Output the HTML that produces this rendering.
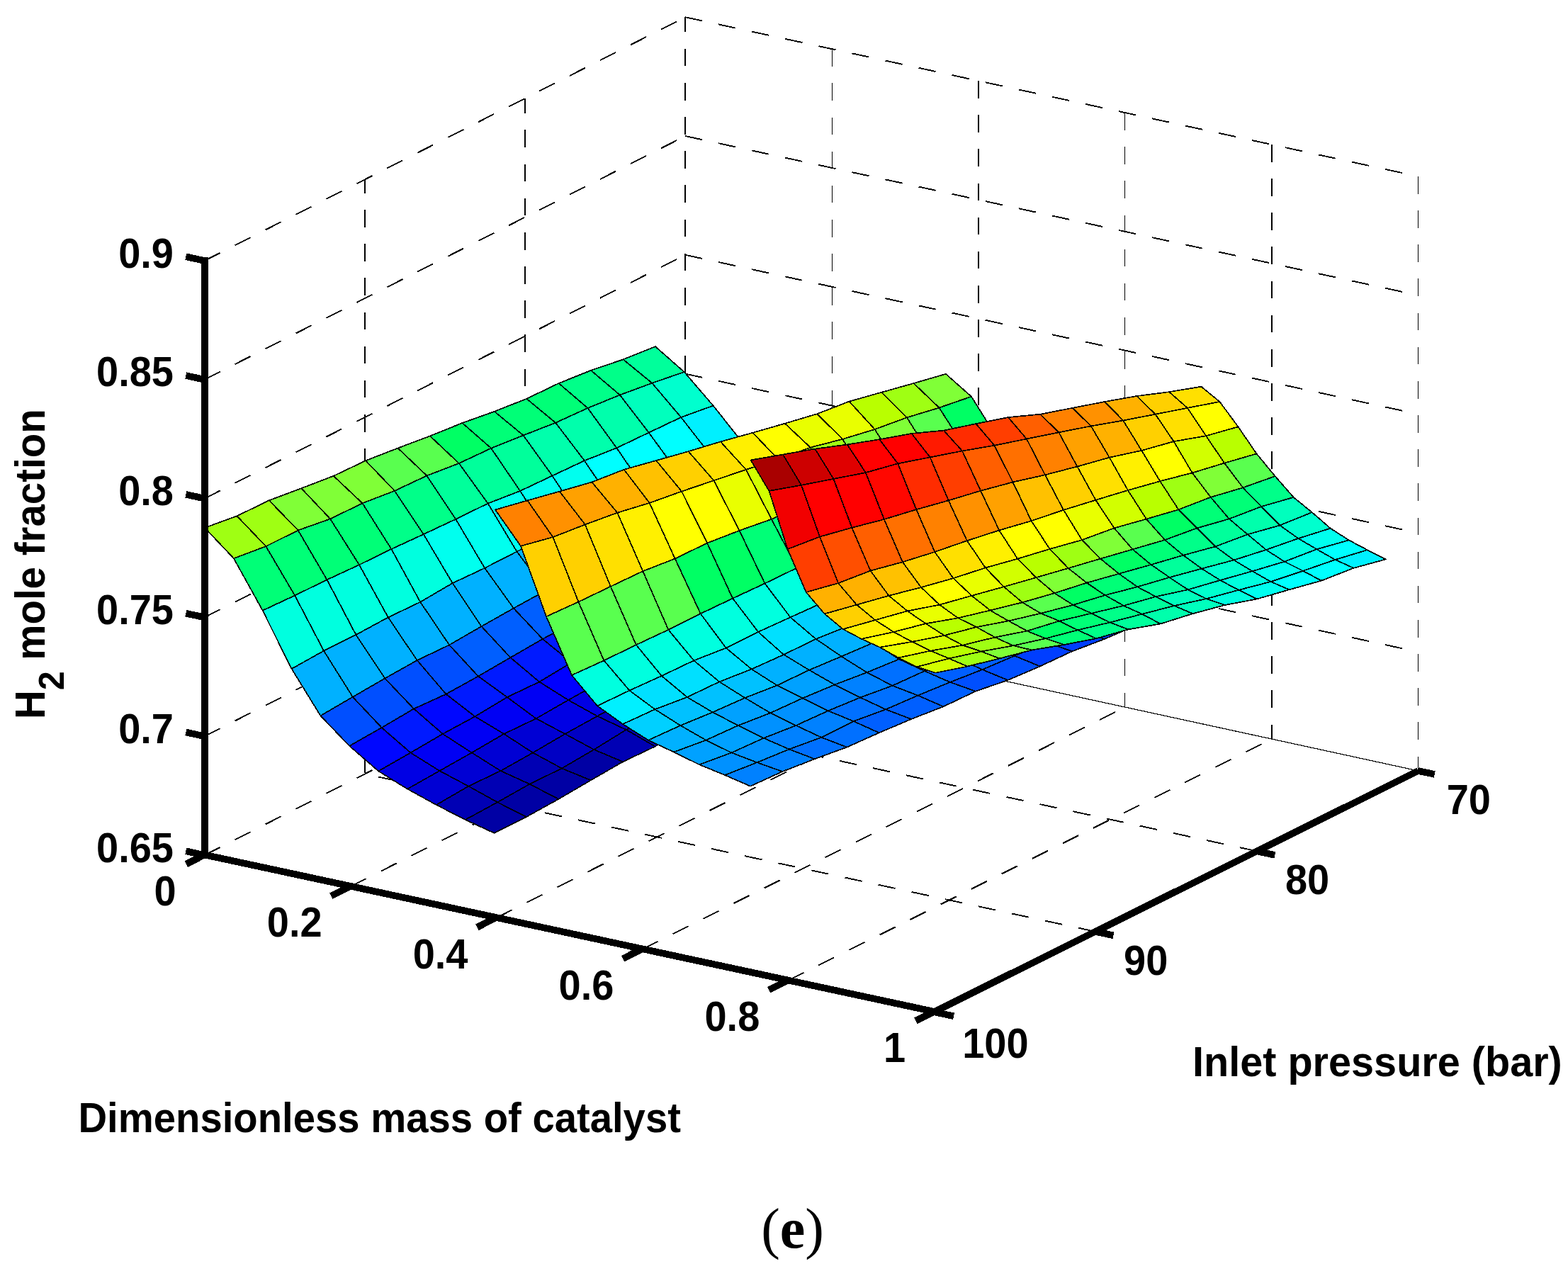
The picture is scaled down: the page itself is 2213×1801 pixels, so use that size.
<!DOCTYPE html>
<html><head><meta charset="utf-8"><title>Figure (e)</title>
<style>
html,body{margin:0;padding:0;background:#fff;}
body{width:2213px;height:1801px;overflow:hidden;}
svg{display:block;}
text{font-family:"Liberation Sans",Arial,Helvetica,sans-serif;font-weight:bold;fill:#000;}
</style></head><body>
<svg width="2213" height="1801" viewBox="0 0 2213 1801" shape-rendering="crispEdges">
<rect width="2213" height="1801" fill="#fff"/>
<g id="grid">
<line x1="515.0" y1="253.4" x2="515.0" y2="1092.4" stroke="#000" stroke-width="2" stroke-dasharray="24.6,23.55" stroke-dashoffset="5.5"/>
<line x1="741.0" y1="138.8" x2="741.0" y2="977.8" stroke="#000" stroke-width="2" stroke-dasharray="24.6,23.55" stroke-dashoffset="3.5"/>
<line x1="967.0" y1="24.2" x2="967.0" y2="863.2" stroke="#000" stroke-width="2" stroke-dasharray="24.6,23.55" stroke-dashoffset="3.5"/>
<line x1="288.7" y1="1207.0" x2="967.2" y2="863.2" stroke="#000" stroke-width="1.9" stroke-dasharray="24.6,23.55"/>
<line x1="288.7" y1="1039.2" x2="967.2" y2="695.4" stroke="#000" stroke-width="1.9" stroke-dasharray="24.6,23.55"/>
<line x1="288.7" y1="871.4" x2="967.2" y2="527.6" stroke="#000" stroke-width="1.9" stroke-dasharray="24.6,23.55"/>
<line x1="288.7" y1="703.6" x2="967.2" y2="359.8" stroke="#000" stroke-width="1.9" stroke-dasharray="24.6,23.55"/>
<line x1="288.7" y1="535.8" x2="967.2" y2="192.0" stroke="#000" stroke-width="1.9" stroke-dasharray="24.6,23.55"/>
<line x1="288.7" y1="368.0" x2="967.2" y2="24.2" stroke="#000" stroke-width="1.9" stroke-dasharray="24.6,23.55"/>
<line x1="1174.5" y1="69.2" x2="1174.5" y2="908.2" stroke="#000" stroke-width="1" stroke-dasharray="24.6,23.55"/>
<line x1="1381.0" y1="114.1" x2="1381.0" y2="953.1" stroke="#000" stroke-width="2" stroke-dasharray="24.6,23.55"/>
<line x1="1587.5" y1="159.1" x2="1587.5" y2="998.1" stroke="#000" stroke-width="1" stroke-dasharray="24.6,23.55"/>
<line x1="1795.0" y1="204.0" x2="1795.0" y2="1043.0" stroke="#000" stroke-width="2" stroke-dasharray="24.6,23.55"/>
<line x1="2001.5" y1="249.0" x2="2001.5" y2="1088.0" stroke="#000" stroke-width="1" stroke-dasharray="24.6,23.55"/>
<line x1="967.2" y1="695.4" x2="2001.7" y2="920.2" stroke="#000" stroke-width="1.9" stroke-dasharray="24.6,23.55"/>
<line x1="967.2" y1="527.6" x2="2001.7" y2="752.4" stroke="#000" stroke-width="1.9" stroke-dasharray="24.6,23.55"/>
<line x1="967.2" y1="359.8" x2="2001.7" y2="584.6" stroke="#000" stroke-width="1.9" stroke-dasharray="24.6,23.55"/>
<line x1="967.2" y1="192.0" x2="2001.7" y2="416.8" stroke="#000" stroke-width="1.9" stroke-dasharray="24.6,23.55"/>
<line x1="967.2" y1="24.2" x2="2001.7" y2="249.0" stroke="#000" stroke-width="1.9" stroke-dasharray="24.6,23.55"/>
<line x1="967.2" y1="863.2" x2="2001.7" y2="1088.0" stroke="#000" stroke-width="1.2"/>
<line x1="494.6" y1="1251.3" x2="1174.1" y2="908.2" stroke="#000" stroke-width="1.9" stroke-dasharray="24.6,23.55"/>
<line x1="700.5" y1="1295.5" x2="1381.0" y2="953.1" stroke="#000" stroke-width="1.9" stroke-dasharray="24.6,23.55"/>
<line x1="906.4" y1="1339.8" x2="1587.9" y2="998.1" stroke="#000" stroke-width="1.9" stroke-dasharray="24.6,23.55"/>
<line x1="1112.3" y1="1384.0" x2="1794.8" y2="1043.0" stroke="#000" stroke-width="1.9" stroke-dasharray="24.6,23.55"/>
<line x1="1546.0" y1="1314.9" x2="514.9" y2="1092.4" stroke="#000" stroke-width="1.9" stroke-dasharray="24.6,23.55"/>
<line x1="1773.9" y1="1201.4" x2="741.0" y2="977.8" stroke="#000" stroke-width="1.9" stroke-dasharray="24.6,23.55"/>
</g>
<g id="surfaces" stroke="#000" stroke-width="1.7" stroke-linejoin="round">
<g id="s1">
<polygon points="879.5,507.3 924.9,489.1 965.7,525.0 920.3,540.7" fill="#00ff9b"/>
<polygon points="920.3,540.7 965.7,525.0 1006.6,572.6 961.2,589.0" fill="#00ffce"/>
<polygon points="961.2,589.0 1006.6,572.6 1047.4,624.0 1002.0,641.3" fill="#00f0ff"/>
<polygon points="1002.0,641.3 1047.4,624.0 1088.3,658.2 1042.9,683.2" fill="#00b1ff"/>
<polygon points="1042.9,683.2 1088.3,658.2 1129.1,704.1 1083.7,729.0" fill="#0081ff"/>
<polygon points="1083.7,729.0 1129.1,704.1 1170.0,731.7 1124.6,757.1" fill="#003eff"/>
<polygon points="1124.6,757.1 1170.0,731.7 1210.8,762.7 1165.4,787.7" fill="#001aff"/>
<polygon points="1165.4,787.7 1210.8,762.7 1251.7,787.0 1206.3,811.9" fill="#0000ff"/>
<polygon points="1206.3,811.9 1251.7,787.0 1292.5,805.6 1247.1,830.7" fill="#0000e4"/>
<polygon points="1247.1,830.7 1292.5,805.6 1333.4,828.3 1288.0,853.2" fill="#0000d4"/>
<polygon points="834.0,522.8 879.5,507.3 920.3,540.7 874.9,557.5" fill="#00ff89"/>
<polygon points="874.9,557.5 920.3,540.7 961.2,589.0 915.7,610.6" fill="#00ffbd"/>
<polygon points="915.7,610.6 961.2,589.0 1002.0,641.3 956.6,666.7" fill="#00ffff"/>
<polygon points="956.6,666.7 1002.0,641.3 1042.9,683.2 997.4,708.3" fill="#00b1ff"/>
<polygon points="997.4,708.3 1042.9,683.2 1083.7,729.0 1038.3,753.8" fill="#0081ff"/>
<polygon points="1038.3,753.8 1083.7,729.0 1124.6,757.1 1079.1,782.5" fill="#003eff"/>
<polygon points="1079.1,782.5 1124.6,757.1 1165.4,787.7 1120.0,812.8" fill="#001aff"/>
<polygon points="1120.0,812.8 1165.4,787.7 1206.3,811.9 1160.8,836.8" fill="#0000ff"/>
<polygon points="1160.8,836.8 1206.3,811.9 1247.1,830.7 1201.7,855.9" fill="#0000e4"/>
<polygon points="1201.7,855.9 1247.1,830.7 1288.0,853.2 1242.5,878.1" fill="#0000d4"/>
<polygon points="788.6,541.0 834.0,522.8 874.9,557.5 829.5,576.0" fill="#00ff89"/>
<polygon points="829.5,576.0 874.9,557.5 915.7,610.6 870.3,632.3" fill="#00ffac"/>
<polygon points="870.3,632.3 915.7,610.6 956.6,666.7 911.2,692.0" fill="#00ffff"/>
<polygon points="911.2,692.0 956.6,666.7 997.4,708.3 952.0,733.3" fill="#00b1ff"/>
<polygon points="952.0,733.3 997.4,708.3 1038.3,753.8 992.9,778.7" fill="#0081ff"/>
<polygon points="992.9,778.7 1038.3,753.8 1079.1,782.5 1033.7,808.0" fill="#003eff"/>
<polygon points="1033.7,808.0 1079.1,782.5 1120.0,812.8 1074.6,837.8" fill="#001aff"/>
<polygon points="1074.6,837.8 1120.0,812.8 1160.8,836.8 1115.4,861.8" fill="#0000f4"/>
<polygon points="1115.4,861.8 1160.8,836.8 1201.7,855.9 1156.3,881.0" fill="#0000e4"/>
<polygon points="1156.3,881.0 1201.7,855.9 1242.5,878.1 1197.1,902.9" fill="#0000d4"/>
<polygon points="743.2,562.8 788.6,541.0 829.5,576.0 784.1,596.7" fill="#00ff77"/>
<polygon points="784.1,596.7 829.5,576.0 870.3,632.3 824.9,650.2" fill="#00ffac"/>
<polygon points="824.9,650.2 870.3,632.3 911.2,692.0 865.8,711.1" fill="#00ffff"/>
<polygon points="865.8,711.1 911.2,692.0 952.0,733.3 906.6,758.4" fill="#00b1ff"/>
<polygon points="906.6,758.4 952.0,733.3 992.9,778.7 947.5,803.6" fill="#0070ff"/>
<polygon points="947.5,803.6 992.9,778.7 1033.7,808.0 988.3,833.4" fill="#002cff"/>
<polygon points="988.3,833.4 1033.7,808.0 1074.6,837.8 1029.2,862.8" fill="#0007ff"/>
<polygon points="1029.2,862.8 1074.6,837.8 1115.4,861.8 1070.0,886.7" fill="#0000f4"/>
<polygon points="1070.0,886.7 1115.4,861.8 1156.3,881.0 1110.9,906.2" fill="#0000d4"/>
<polygon points="1110.9,906.2 1156.3,881.0 1197.1,902.9 1151.7,927.8" fill="#0000c4"/>
<polygon points="697.8,580.8 743.2,562.8 784.1,596.7 738.6,614.5" fill="#00ff77"/>
<polygon points="738.6,614.5 784.1,596.7 824.9,650.2 779.5,671.5" fill="#00ffac"/>
<polygon points="779.5,671.5 824.9,650.2 865.8,711.1 820.3,734.3" fill="#00ffef"/>
<polygon points="820.3,734.3 865.8,711.1 906.6,758.4 861.2,783.4" fill="#00b1ff"/>
<polygon points="861.2,783.4 906.6,758.4 947.5,803.6 902.0,828.5" fill="#0070ff"/>
<polygon points="902.0,828.5 947.5,803.6 988.3,833.4 942.9,858.8" fill="#002cff"/>
<polygon points="942.9,858.8 988.3,833.4 1029.2,862.8 983.7,887.8" fill="#0007ff"/>
<polygon points="983.7,887.8 1029.2,862.8 1070.0,886.7 1024.6,911.7" fill="#0000f4"/>
<polygon points="1024.6,911.7 1070.0,886.7 1110.9,906.2 1065.4,931.3" fill="#0000d4"/>
<polygon points="1065.4,931.3 1110.9,906.2 1151.7,927.8 1106.3,952.7" fill="#0000c4"/>
<polygon points="652.4,597.0 697.8,580.8 738.6,614.5 693.2,632.7" fill="#00ff77"/>
<polygon points="693.2,632.7 738.6,614.5 779.5,671.5 734.1,693.0" fill="#00ff9b"/>
<polygon points="734.1,693.0 779.5,671.5 820.3,734.3 774.9,756.2" fill="#00ffef"/>
<polygon points="774.9,756.2 820.3,734.3 861.2,783.4 815.8,808.5" fill="#00b1ff"/>
<polygon points="815.8,808.5 861.2,783.4 902.0,828.5 856.6,853.4" fill="#0070ff"/>
<polygon points="856.6,853.4 902.0,828.5 942.9,858.8 897.5,884.2" fill="#002cff"/>
<polygon points="897.5,884.2 942.9,858.8 983.7,887.8 938.3,912.8" fill="#0007ff"/>
<polygon points="938.3,912.8 983.7,887.8 1024.6,911.7 979.2,936.6" fill="#0000f4"/>
<polygon points="979.2,936.6 1024.6,911.7 1065.4,931.3 1020.0,956.4" fill="#0000d4"/>
<polygon points="1020.0,956.4 1065.4,931.3 1106.3,952.7 1060.9,977.6" fill="#0000c4"/>
<polygon points="606.9,615.4 652.4,597.0 693.2,632.7 647.8,654.0" fill="#00ff64"/>
<polygon points="647.8,654.0 693.2,632.7 734.1,693.0 688.6,710.6" fill="#00ff9b"/>
<polygon points="688.6,710.6 734.1,693.0 774.9,756.2 729.5,778.5" fill="#00ffef"/>
<polygon points="729.5,778.5 774.9,756.2 815.8,808.5 770.3,833.5" fill="#00b1ff"/>
<polygon points="770.3,833.5 815.8,808.5 856.6,853.4 811.2,878.3" fill="#0070ff"/>
<polygon points="811.2,878.3 856.6,853.4 897.5,884.2 852.0,909.7" fill="#002cff"/>
<polygon points="852.0,909.7 897.5,884.2 938.3,912.8 892.9,937.8" fill="#0000ff"/>
<polygon points="892.9,937.8 938.3,912.8 979.2,936.6 933.7,961.6" fill="#0000e4"/>
<polygon points="933.7,961.6 979.2,936.6 1020.0,956.4 974.6,981.6" fill="#0000d4"/>
<polygon points="974.6,981.6 1020.0,956.4 1060.9,977.6 1015.4,1002.5" fill="#0000c4"/>
<polygon points="561.5,632.5 606.9,615.4 647.8,654.0 602.4,671.4" fill="#59ff4f"/>
<polygon points="602.4,671.4 647.8,654.0 688.6,710.6 643.2,732.8" fill="#00ff9b"/>
<polygon points="643.2,732.8 688.6,710.6 729.5,778.5 684.1,801.8" fill="#00ffef"/>
<polygon points="684.1,801.8 729.5,778.5 770.3,833.5 724.9,858.5" fill="#00b1ff"/>
<polygon points="724.9,858.5 770.3,833.5 811.2,878.3 765.8,901.9" fill="#005fff"/>
<polygon points="765.8,901.9 811.2,878.3 852.0,909.7 806.6,935.1" fill="#001aff"/>
<polygon points="806.6,935.1 852.0,909.7 892.9,937.8 847.5,962.8" fill="#0000ff"/>
<polygon points="847.5,962.8 892.9,937.8 933.7,961.6 888.3,986.5" fill="#0000e4"/>
<polygon points="888.3,986.5 933.7,961.6 974.6,981.6 929.2,1006.7" fill="#0000c4"/>
<polygon points="929.2,1006.7 974.6,981.6 1015.4,1002.5 970.0,1027.4" fill="#0000b4"/>
<polygon points="516.1,650.2 561.5,632.5 602.4,671.4 557.0,692.8" fill="#59ff4f"/>
<polygon points="557.0,692.8 602.4,671.4 643.2,732.8 597.8,754.1" fill="#00ff89"/>
<polygon points="597.8,754.1 643.2,732.8 684.1,801.8 638.7,823.1" fill="#00ffef"/>
<polygon points="638.7,823.1 684.1,801.8 724.9,858.5 679.5,884.1" fill="#00b1ff"/>
<polygon points="679.5,884.1 724.9,858.5 765.8,901.9 720.4,928.1" fill="#005fff"/>
<polygon points="720.4,928.1 765.8,901.9 806.6,935.1 761.2,962.4" fill="#001aff"/>
<polygon points="761.2,962.4 806.6,935.1 847.5,962.8 802.1,988.1" fill="#0000ff"/>
<polygon points="802.1,988.1 847.5,962.8 888.3,986.5 842.9,1010.8" fill="#0000e4"/>
<polygon points="842.9,1010.8 888.3,986.5 929.2,1006.7 883.8,1030.0" fill="#0000c4"/>
<polygon points="883.8,1030.0 929.2,1006.7 970.0,1027.4 924.6,1053.6" fill="#0000b4"/>
<polygon points="470.7,671.8 516.1,650.2 557.0,692.8 511.5,710.3" fill="#80ff37"/>
<polygon points="511.5,710.3 557.0,692.8 597.8,754.1 552.4,775.0" fill="#00ff89"/>
<polygon points="552.4,775.0 597.8,754.1 638.7,823.1 593.2,849.7" fill="#00ffdf"/>
<polygon points="593.2,849.7 638.7,823.1 679.5,884.1 634.1,910.3" fill="#00b1ff"/>
<polygon points="634.1,910.3 679.5,884.1 720.4,928.1 674.9,954.5" fill="#005fff"/>
<polygon points="674.9,954.5 720.4,928.1 761.2,962.4 715.8,984.0" fill="#001aff"/>
<polygon points="715.8,984.0 761.2,962.4 802.1,988.1 756.6,1014.2" fill="#0000f4"/>
<polygon points="756.6,1014.2 802.1,988.1 842.9,1010.8 797.5,1035.9" fill="#0000e4"/>
<polygon points="797.5,1035.9 842.9,1010.8 883.8,1030.0 838.3,1058.0" fill="#0000c4"/>
<polygon points="838.3,1058.0 883.8,1030.0 924.6,1053.6 879.2,1075.2" fill="#0000b4"/>
<polygon points="425.3,689.2 470.7,671.8 511.5,710.3 466.1,732.4" fill="#80ff37"/>
<polygon points="466.1,732.4 511.5,710.3 552.4,775.0 507.0,797.2" fill="#00ff77"/>
<polygon points="507.0,797.2 552.4,775.0 593.2,849.7 547.8,871.4" fill="#00ffdf"/>
<polygon points="547.8,871.4 593.2,849.7 634.1,910.3 588.7,932.0" fill="#00b1ff"/>
<polygon points="588.7,932.0 634.1,910.3 674.9,954.5 629.5,979.7" fill="#004fff"/>
<polygon points="629.5,979.7 674.9,954.5 715.8,984.0 670.4,1011.3" fill="#001aff"/>
<polygon points="670.4,1011.3 715.8,984.0 756.6,1014.2 711.2,1035.9" fill="#0000f4"/>
<polygon points="711.2,1035.9 756.6,1014.2 797.5,1035.9 752.1,1062.4" fill="#0000d4"/>
<polygon points="752.1,1062.4 797.5,1035.9 838.3,1058.0 792.9,1084.5" fill="#0000c4"/>
<polygon points="792.9,1084.5 838.3,1058.0 879.2,1075.2 833.8,1101.3" fill="#0000a4"/>
<polygon points="379.8,706.3 425.3,689.2 466.1,732.4 420.7,748.5" fill="#80ff37"/>
<polygon points="420.7,748.5 466.1,732.4 507.0,797.2 461.5,818.3" fill="#00ff77"/>
<polygon points="461.5,818.3 507.0,797.2 547.8,871.4 502.4,896.0" fill="#00ffdf"/>
<polygon points="502.4,896.0 547.8,871.4 588.7,932.0 543.2,957.5" fill="#00b1ff"/>
<polygon points="543.2,957.5 588.7,932.0 629.5,979.7 584.1,1000.4" fill="#004fff"/>
<polygon points="584.1,1000.4 629.5,979.7 670.4,1011.3 624.9,1035.9" fill="#0007ff"/>
<polygon points="624.9,1035.9 670.4,1011.3 711.2,1035.9 665.8,1062.4" fill="#0000f4"/>
<polygon points="665.8,1062.4 711.2,1035.9 752.1,1062.4 706.6,1088.0" fill="#0000d4"/>
<polygon points="706.6,1088.0 752.1,1062.4 792.9,1084.5 747.5,1106.7" fill="#0000b4"/>
<polygon points="747.5,1106.7 792.9,1084.5 833.8,1101.3 788.3,1127.9" fill="#0000a4"/>
<polygon points="334.4,728.3 379.8,706.3 420.7,748.5 375.3,771.1" fill="#9fff13"/>
<polygon points="375.3,771.1 420.7,748.5 461.5,818.3 416.1,840.5" fill="#00ff77"/>
<polygon points="416.1,840.5 461.5,818.3 502.4,896.0 457.0,918.6" fill="#00ffdf"/>
<polygon points="457.0,918.6 502.4,896.0 543.2,957.5 497.8,983.7" fill="#00b1ff"/>
<polygon points="497.8,983.7 543.2,957.5 584.1,1000.4 538.7,1027.0" fill="#004fff"/>
<polygon points="538.7,1027.0 584.1,1000.4 624.9,1035.9 579.5,1062.4" fill="#001aff"/>
<polygon points="579.5,1062.4 624.9,1035.9 665.8,1062.4 620.4,1088.0" fill="#0000f4"/>
<polygon points="620.4,1088.0 665.8,1062.4 706.6,1088.0 661.2,1109.7" fill="#0000d4"/>
<polygon points="661.2,1109.7 706.6,1088.0 747.5,1106.7 702.1,1132.3" fill="#0000b4"/>
<polygon points="702.1,1132.3 747.5,1106.7 788.3,1127.9 742.9,1153.0" fill="#0000a4"/>
<polygon points="289.0,744.9 334.4,728.3 375.3,771.1 329.9,788.2" fill="#9fff13"/>
<polygon points="329.9,788.2 375.3,771.1 416.1,840.5 370.7,861.7" fill="#00ff77"/>
<polygon points="370.7,861.7 416.1,840.5 457.0,918.6 411.6,944.0" fill="#00ffdf"/>
<polygon points="411.6,944.0 457.0,918.6 497.8,983.7 452.4,1010.2" fill="#00b1ff"/>
<polygon points="452.4,1010.2 497.8,983.7 538.7,1027.0 493.2,1052.9" fill="#004fff"/>
<polygon points="493.2,1052.9 538.7,1027.0 579.5,1062.4 534.1,1088.4" fill="#0007ff"/>
<polygon points="534.1,1088.4 579.5,1062.4 620.4,1088.0 575.0,1113.6" fill="#0000e4"/>
<polygon points="575.0,1113.6 620.4,1088.0 661.2,1109.7 615.8,1136.0" fill="#0000d4"/>
<polygon points="615.8,1136.0 661.2,1109.7 702.1,1132.3 656.7,1157.0" fill="#0000b4"/>
<polygon points="656.7,1157.0 702.1,1132.3 742.9,1153.0 697.5,1175.8" fill="#0000a4"/>
</g>
<g id="s2">
<polygon points="1289.5,541.0 1334.9,527.8 1370.9,559.7 1325.5,575.5" fill="#80ff37"/>
<polygon points="1325.5,575.5 1370.9,559.7 1406.9,617.1 1361.5,632.0" fill="#00ff64"/>
<polygon points="1361.5,632.0 1406.9,617.1 1442.9,649.6 1397.5,671.3" fill="#00ffbd"/>
<polygon points="1397.5,671.3 1442.9,649.6 1478.9,705.8 1433.5,726.5" fill="#00ffef"/>
<polygon points="1433.5,726.5 1478.9,705.8 1514.9,745.1 1469.5,764.9" fill="#00c1ff"/>
<polygon points="1469.5,764.9 1514.9,745.1 1550.9,769.8 1505.5,789.4" fill="#0091ff"/>
<polygon points="1505.5,789.4 1550.9,769.8 1586.9,797.3 1541.5,816.2" fill="#0070ff"/>
<polygon points="1541.5,816.2 1586.9,797.3 1622.9,815.0 1577.5,833.9" fill="#004fff"/>
<polygon points="1577.5,833.9 1622.9,815.0 1658.9,831.8 1613.5,850.6" fill="#003eff"/>
<polygon points="1613.5,850.6 1658.9,831.8 1694.9,844.0 1649.5,863.2" fill="#002cff"/>
<polygon points="1244.0,553.8 1289.5,541.0 1325.5,575.5 1280.0,589.3" fill="#9fff13"/>
<polygon points="1280.0,589.3 1325.5,575.5 1361.5,632.0 1316.0,647.2" fill="#59ff4f"/>
<polygon points="1316.0,647.2 1361.5,632.0 1397.5,671.3 1352.0,693.0" fill="#00ffbd"/>
<polygon points="1352.0,693.0 1397.5,671.3 1433.5,726.5 1388.0,747.2" fill="#00ffef"/>
<polygon points="1388.0,747.2 1433.5,726.5 1469.5,764.9 1424.0,784.7" fill="#00c1ff"/>
<polygon points="1424.0,784.7 1469.5,764.9 1505.5,789.4 1460.0,809.0" fill="#0091ff"/>
<polygon points="1460.0,809.0 1505.5,789.4 1541.5,816.2 1496.0,835.2" fill="#0070ff"/>
<polygon points="1496.0,835.2 1541.5,816.2 1577.5,833.9 1532.0,852.8" fill="#004fff"/>
<polygon points="1532.0,852.8 1577.5,833.9 1613.5,850.6 1568.0,869.4" fill="#003eff"/>
<polygon points="1568.0,869.4 1613.5,850.6 1649.5,863.2 1604.0,882.4" fill="#002cff"/>
<polygon points="1198.6,566.6 1244.0,553.8 1280.0,589.3 1234.6,606.0" fill="#b9ff00"/>
<polygon points="1234.6,606.0 1280.0,589.3 1316.0,647.2 1270.6,662.9" fill="#80ff37"/>
<polygon points="1270.6,662.9 1316.0,647.2 1352.0,693.0 1306.6,714.7" fill="#00ffac"/>
<polygon points="1306.6,714.7 1352.0,693.0 1388.0,747.2 1342.6,767.9" fill="#00ffef"/>
<polygon points="1342.6,767.9 1388.0,747.2 1424.0,784.7 1378.6,804.5" fill="#00c1ff"/>
<polygon points="1378.6,804.5 1424.0,784.7 1460.0,809.0 1414.6,828.6" fill="#0091ff"/>
<polygon points="1414.6,828.6 1460.0,809.0 1496.0,835.2 1450.6,854.1" fill="#0070ff"/>
<polygon points="1450.6,854.1 1496.0,835.2 1532.0,852.8 1486.6,871.8" fill="#005fff"/>
<polygon points="1486.6,871.8 1532.0,852.8 1568.0,869.4 1522.6,888.2" fill="#003eff"/>
<polygon points="1522.6,888.2 1568.0,869.4 1604.0,882.4 1558.6,902.1" fill="#003eff"/>
<polygon points="1153.2,584.2 1198.6,566.6 1234.6,606.0 1189.2,619.8" fill="#e9ff00"/>
<polygon points="1189.2,619.8 1234.6,606.0 1270.6,662.9 1225.2,679.1" fill="#80ff37"/>
<polygon points="1225.2,679.1 1270.6,662.9 1306.6,714.7 1261.2,736.4" fill="#00ff9b"/>
<polygon points="1261.2,736.4 1306.6,714.7 1342.6,767.9 1297.2,788.6" fill="#00ffef"/>
<polygon points="1297.2,788.6 1342.6,767.9 1378.6,804.5 1333.2,824.3" fill="#00d0ff"/>
<polygon points="1333.2,824.3 1378.6,804.5 1414.6,828.6 1369.2,848.2" fill="#00a1ff"/>
<polygon points="1369.2,848.2 1414.6,828.6 1450.6,854.1 1405.2,873.0" fill="#0081ff"/>
<polygon points="1405.2,873.0 1450.6,854.1 1486.6,871.8 1441.2,890.7" fill="#005fff"/>
<polygon points="1441.2,890.7 1486.6,871.8 1522.6,888.2 1477.2,906.9" fill="#004fff"/>
<polygon points="1477.2,906.9 1522.6,888.2 1558.6,902.1 1513.2,919.3" fill="#003eff"/>
<polygon points="1107.8,597.7 1153.2,584.2 1189.2,619.8 1143.8,631.6" fill="#e9ff00"/>
<polygon points="1143.8,631.6 1189.2,619.8 1225.2,679.1 1179.8,695.9" fill="#9fff13"/>
<polygon points="1179.8,695.9 1225.2,679.1 1261.2,736.4 1215.8,758.1" fill="#00ff89"/>
<polygon points="1215.8,758.1 1261.2,736.4 1297.2,788.6 1251.8,809.3" fill="#00ffef"/>
<polygon points="1251.8,809.3 1297.2,788.6 1333.2,824.3 1287.8,844.1" fill="#00d0ff"/>
<polygon points="1287.8,844.1 1333.2,824.3 1369.2,848.2 1323.8,867.8" fill="#00a1ff"/>
<polygon points="1323.8,867.8 1369.2,848.2 1405.2,873.0 1359.8,891.9" fill="#0081ff"/>
<polygon points="1359.8,891.9 1405.2,873.0 1441.2,890.7 1395.8,909.6" fill="#005fff"/>
<polygon points="1395.8,909.6 1441.2,890.7 1477.2,906.9 1431.8,925.6" fill="#004fff"/>
<polygon points="1431.8,925.6 1477.2,906.9 1513.2,919.3 1467.8,940.5" fill="#003eff"/>
<polygon points="1062.4,610.8 1107.8,597.7 1143.8,631.6 1098.4,648.4" fill="#ffff00"/>
<polygon points="1098.4,648.4 1143.8,631.6 1179.8,695.9 1134.4,713.2" fill="#b9ff00"/>
<polygon points="1134.4,713.2 1179.8,695.9 1215.8,758.1 1170.4,779.8" fill="#00ff89"/>
<polygon points="1170.4,779.8 1215.8,758.1 1251.8,809.3 1206.4,830.0" fill="#00ffdf"/>
<polygon points="1206.4,830.0 1251.8,809.3 1287.8,844.1 1242.4,863.9" fill="#00d0ff"/>
<polygon points="1242.4,863.9 1287.8,844.1 1323.8,867.8 1278.4,887.5" fill="#00a1ff"/>
<polygon points="1278.4,887.5 1323.8,867.8 1359.8,891.9 1314.4,910.8" fill="#0081ff"/>
<polygon points="1314.4,910.8 1359.8,891.9 1395.8,909.6 1350.4,928.6" fill="#0070ff"/>
<polygon points="1350.4,928.6 1395.8,909.6 1431.8,925.6 1386.4,945.1" fill="#005fff"/>
<polygon points="1386.4,945.1 1431.8,925.6 1467.8,940.5 1422.4,960.0" fill="#004fff"/>
<polygon points="1016.9,623.4 1062.4,610.8 1098.4,648.4 1052.9,662.8" fill="#fff000"/>
<polygon points="1052.9,662.8 1098.4,648.4 1134.4,713.2 1088.9,732.8" fill="#d2ff00"/>
<polygon points="1088.9,732.8 1134.4,713.2 1170.4,779.8 1124.9,801.5" fill="#00ff77"/>
<polygon points="1124.9,801.5 1170.4,779.8 1206.4,830.0 1160.9,850.7" fill="#00ffdf"/>
<polygon points="1160.9,850.7 1206.4,830.0 1242.4,863.9 1196.9,883.7" fill="#00d0ff"/>
<polygon points="1196.9,883.7 1242.4,863.9 1278.4,887.5 1232.9,907.1" fill="#00a1ff"/>
<polygon points="1232.9,907.1 1278.4,887.5 1314.4,910.8 1268.9,930.4" fill="#0091ff"/>
<polygon points="1268.9,930.4 1314.4,910.8 1350.4,928.6 1304.9,947.1" fill="#0070ff"/>
<polygon points="1304.9,947.1 1350.4,928.6 1386.4,945.1 1340.9,962.9" fill="#005fff"/>
<polygon points="1340.9,962.9 1386.4,945.1 1422.4,960.0 1376.9,975.7" fill="#004fff"/>
<polygon points="971.5,637.2 1016.9,623.4 1052.9,662.8 1007.5,678.2" fill="#ffe000"/>
<polygon points="1007.5,678.2 1052.9,662.8 1088.9,732.8 1043.5,748.9" fill="#e9ff00"/>
<polygon points="1043.5,748.9 1088.9,732.8 1124.9,801.5 1079.5,823.5" fill="#00ff77"/>
<polygon points="1079.5,823.5 1124.9,801.5 1160.9,850.7 1115.5,871.3" fill="#00ffdf"/>
<polygon points="1115.5,871.3 1160.9,850.7 1196.9,883.7 1151.5,901.9" fill="#00d0ff"/>
<polygon points="1151.5,901.9 1196.9,883.7 1232.9,907.1 1187.5,926.5" fill="#00b1ff"/>
<polygon points="1187.5,926.5 1232.9,907.1 1268.9,930.4 1223.5,949.1" fill="#0091ff"/>
<polygon points="1223.5,949.1 1268.9,930.4 1304.9,947.1 1259.5,967.8" fill="#0070ff"/>
<polygon points="1259.5,967.8 1304.9,947.1 1340.9,962.9 1295.5,981.6" fill="#0070ff"/>
<polygon points="1295.5,981.6 1340.9,962.9 1376.9,975.7 1331.5,997.3" fill="#005fff"/>
<polygon points="926.1,650.0 971.5,637.2 1007.5,678.2 962.1,693.6" fill="#ffd000"/>
<polygon points="962.1,693.6 1007.5,678.2 1043.5,748.9 998.1,766.5" fill="#ffff00"/>
<polygon points="998.1,766.5 1043.5,748.9 1079.5,823.5 1034.1,844.6" fill="#00ff64"/>
<polygon points="1034.1,844.6 1079.5,823.5 1115.5,871.3 1070.1,891.9" fill="#00ffdf"/>
<polygon points="1070.1,891.9 1115.5,871.3 1151.5,901.9 1106.1,924.0" fill="#00e0ff"/>
<polygon points="1106.1,924.0 1151.5,901.9 1187.5,926.5 1142.1,945.7" fill="#00b1ff"/>
<polygon points="1142.1,945.7 1187.5,926.5 1223.5,949.1 1178.1,966.4" fill="#0091ff"/>
<polygon points="1178.1,966.4 1223.5,949.1 1259.5,967.8 1214.1,984.5" fill="#0081ff"/>
<polygon points="1214.1,984.5 1259.5,967.8 1295.5,981.6 1250.1,1001.3" fill="#0070ff"/>
<polygon points="1250.1,1001.3 1295.5,981.6 1331.5,997.3 1286.1,1015.0" fill="#005fff"/>
<polygon points="880.7,662.8 926.1,650.0 962.1,693.6 916.7,709.9" fill="#ffc100"/>
<polygon points="916.7,709.9 962.1,693.6 998.1,766.5 952.7,788.5" fill="#ffff00"/>
<polygon points="952.7,788.5 998.1,766.5 1034.1,844.6 988.7,866.2" fill="#00ff64"/>
<polygon points="988.7,866.2 1034.1,844.6 1070.1,891.9 1024.7,914.6" fill="#00ffdf"/>
<polygon points="1024.7,914.6 1070.1,891.9 1106.1,924.0 1060.7,944.5" fill="#00e0ff"/>
<polygon points="1060.7,944.5 1106.1,924.0 1142.1,945.7 1096.7,967.4" fill="#00b1ff"/>
<polygon points="1096.7,967.4 1142.1,945.7 1178.1,966.4 1132.7,985.5" fill="#00a1ff"/>
<polygon points="1132.7,985.5 1178.1,966.4 1214.1,984.5 1168.7,1003.3" fill="#0081ff"/>
<polygon points="1168.7,1003.3 1214.1,984.5 1250.1,1001.3 1204.7,1018.0" fill="#0070ff"/>
<polygon points="1204.7,1018.0 1250.1,1001.3 1286.1,1015.0 1240.7,1034.3" fill="#005fff"/>
<polygon points="835.3,680.5 880.7,662.8 916.7,709.9 871.3,723.7" fill="#ffb100"/>
<polygon points="871.3,723.7 916.7,709.9 952.7,788.5 907.3,806.2" fill="#fff000"/>
<polygon points="907.3,806.2 952.7,788.5 988.7,866.2 943.3,888.9" fill="#59ff4f"/>
<polygon points="943.3,888.9 988.7,866.2 1024.7,914.6 979.3,932.3" fill="#00ffdf"/>
<polygon points="979.3,932.3 1024.7,914.6 1060.7,944.5 1015.3,962.3" fill="#00e0ff"/>
<polygon points="1015.3,962.3 1060.7,944.5 1096.7,967.4 1051.3,985.0" fill="#00c1ff"/>
<polygon points="1051.3,985.0 1096.7,967.4 1132.7,985.5 1087.3,1006.3" fill="#00a1ff"/>
<polygon points="1087.3,1006.3 1132.7,985.5 1168.7,1003.3 1123.3,1024.0" fill="#0091ff"/>
<polygon points="1123.3,1024.0 1168.7,1003.3 1204.7,1018.0 1159.3,1040.8" fill="#0081ff"/>
<polygon points="1159.3,1040.8 1204.7,1018.0 1240.7,1034.3 1195.3,1054.6" fill="#0070ff"/>
<polygon points="789.8,693.6 835.3,680.5 871.3,723.7 825.8,740.4" fill="#ffa100"/>
<polygon points="825.8,740.4 871.3,723.7 907.3,806.2 861.8,827.8" fill="#ffe000"/>
<polygon points="861.8,827.8 907.3,806.2 943.3,888.9 897.8,910.2" fill="#59ff4f"/>
<polygon points="897.8,910.2 943.3,888.9 979.3,932.3 933.8,954.0" fill="#00ffdf"/>
<polygon points="933.8,954.0 979.3,932.3 1015.3,962.3 969.8,984.0" fill="#00e0ff"/>
<polygon points="969.8,984.0 1015.3,962.3 1051.3,985.0 1005.8,1005.3" fill="#00c1ff"/>
<polygon points="1005.8,1005.3 1051.3,985.0 1087.3,1006.3 1041.8,1024.0" fill="#00a1ff"/>
<polygon points="1041.8,1024.0 1087.3,1006.3 1123.3,1024.0 1077.8,1041.8" fill="#0091ff"/>
<polygon points="1077.8,1041.8 1123.3,1024.0 1159.3,1040.8 1113.8,1057.5" fill="#0081ff"/>
<polygon points="1113.8,1057.5 1159.3,1040.8 1195.3,1054.6 1149.8,1071.3" fill="#0070ff"/>
<polygon points="744.4,706.4 789.8,693.6 825.8,740.4 780.4,758.1" fill="#ff9100"/>
<polygon points="780.4,758.1 825.8,740.4 861.8,827.8 816.4,849.5" fill="#ffd000"/>
<polygon points="816.4,849.5 861.8,827.8 897.8,910.2 852.4,932.3" fill="#59ff4f"/>
<polygon points="852.4,932.3 897.8,910.2 933.8,954.0 888.4,974.6" fill="#00ffdf"/>
<polygon points="888.4,974.6 933.8,954.0 969.8,984.0 924.4,1001.2" fill="#00e0ff"/>
<polygon points="924.4,1001.2 969.8,984.0 1005.8,1005.3 960.4,1024.0" fill="#00c1ff"/>
<polygon points="960.4,1024.0 1005.8,1005.3 1041.8,1024.0 996.4,1044.7" fill="#00b1ff"/>
<polygon points="996.4,1044.7 1041.8,1024.0 1077.8,1041.8 1032.4,1062.4" fill="#00a1ff"/>
<polygon points="1032.4,1062.4 1077.8,1041.8 1113.8,1057.5 1068.4,1076.2" fill="#0091ff"/>
<polygon points="1068.4,1076.2 1113.8,1057.5 1149.8,1071.3 1104.4,1089.0" fill="#0081ff"/>
<polygon points="699.0,719.5 744.4,706.4 780.4,758.1 735.0,770.7" fill="#ff8100"/>
<polygon points="735.0,770.7 780.4,758.1 816.4,849.5 771.0,870.2" fill="#ffd000"/>
<polygon points="771.0,870.2 816.4,849.5 852.4,932.3 807.0,953.0" fill="#59ff4f"/>
<polygon points="807.0,953.0 852.4,932.3 888.4,974.6 843.0,996.3" fill="#00ffdf"/>
<polygon points="843.0,996.3 888.4,974.6 924.4,1001.2 879.0,1022.0" fill="#00f0ff"/>
<polygon points="879.0,1022.0 924.4,1001.2 960.4,1024.0 915.0,1044.7" fill="#00d0ff"/>
<polygon points="915.0,1044.7 960.4,1024.0 996.4,1044.7 951.0,1061.5" fill="#00b1ff"/>
<polygon points="951.0,1061.5 996.4,1044.7 1032.4,1062.4 987.0,1079.2" fill="#00a1ff"/>
<polygon points="987.0,1079.2 1032.4,1062.4 1068.4,1076.2 1023.0,1094.0" fill="#0091ff"/>
<polygon points="1023.0,1094.0 1068.4,1076.2 1104.4,1089.0 1059.0,1109.7" fill="#0081ff"/>
</g>
<g id="s3">
<polygon points="1650.0,553.2 1695.4,545.7 1721.4,567.0 1676.0,575.8" fill="#ffe000"/>
<polygon points="1676.0,575.8 1721.4,567.0 1747.5,602.4 1702.1,615.2" fill="#ffff00"/>
<polygon points="1702.1,615.2 1747.5,602.4 1773.5,640.4 1728.1,653.6" fill="#b9ff00"/>
<polygon points="1728.1,653.6 1773.5,640.4 1799.6,672.1 1754.2,688.3" fill="#59ff4f"/>
<polygon points="1754.2,688.3 1799.6,672.1 1825.6,701.9 1780.2,715.0" fill="#00ff89"/>
<polygon points="1780.2,715.0 1825.6,701.9 1851.7,723.1 1806.3,741.5" fill="#00ffbd"/>
<polygon points="1806.3,741.5 1851.7,723.1 1877.7,745.7 1832.3,760.0" fill="#00ffce"/>
<polygon points="1832.3,760.0 1877.7,745.7 1903.8,762.4 1858.4,775.2" fill="#00ffef"/>
<polygon points="1858.4,775.2 1903.8,762.4 1929.8,776.2 1884.4,790.0" fill="#00ffff"/>
<polygon points="1884.4,790.0 1929.8,776.2 1955.9,789.4 1910.5,801.8" fill="#00f0ff"/>
<polygon points="1604.5,559.0 1650.0,553.2 1676.0,575.8 1630.6,584.7" fill="#ffd000"/>
<polygon points="1630.6,584.7 1676.0,575.8 1702.1,615.2 1656.6,623.1" fill="#ffe000"/>
<polygon points="1656.6,623.1 1702.1,615.2 1728.1,653.6 1682.7,667.4" fill="#d2ff00"/>
<polygon points="1682.7,667.4 1728.1,653.6 1754.2,688.3 1708.7,701.8" fill="#80ff37"/>
<polygon points="1708.7,701.8 1754.2,688.3 1780.2,715.0 1734.8,732.4" fill="#00ff77"/>
<polygon points="1734.8,732.4 1780.2,715.0 1806.3,741.5 1760.8,754.3" fill="#00ffac"/>
<polygon points="1760.8,754.3 1806.3,741.5 1832.3,760.0 1786.9,776.0" fill="#00ffce"/>
<polygon points="1786.9,776.0 1832.3,760.0 1858.4,775.2 1812.9,792.7" fill="#00ffdf"/>
<polygon points="1812.9,792.7 1858.4,775.2 1884.4,790.0 1839.0,805.8" fill="#00ffef"/>
<polygon points="1839.0,805.8 1884.4,790.0 1910.5,801.8 1865.0,819.6" fill="#00ffff"/>
<polygon points="1559.1,567.0 1604.5,559.0 1630.6,584.7 1585.2,593.5" fill="#ffb100"/>
<polygon points="1585.2,593.5 1630.6,584.7 1656.6,623.1 1611.2,635.9" fill="#ffd000"/>
<polygon points="1611.2,635.9 1656.6,623.1 1682.7,667.4 1637.3,679.2" fill="#ffff00"/>
<polygon points="1637.3,679.2 1682.7,667.4 1708.7,701.8 1663.3,719.3" fill="#9fff13"/>
<polygon points="1663.3,719.3 1708.7,701.8 1734.8,732.4 1689.4,745.4" fill="#00ff77"/>
<polygon points="1689.4,745.4 1734.8,732.4 1760.8,754.3 1715.4,771.4" fill="#00ff9b"/>
<polygon points="1715.4,771.4 1760.8,754.3 1786.9,776.0 1741.5,790.5" fill="#00ffbd"/>
<polygon points="1741.5,790.5 1786.9,776.0 1812.9,792.7 1767.5,806.2" fill="#00ffdf"/>
<polygon points="1767.5,806.2 1812.9,792.7 1839.0,805.8 1793.6,821.0" fill="#00ffef"/>
<polygon points="1793.6,821.0 1839.0,805.8 1865.0,819.6 1819.6,832.3" fill="#00ffff"/>
<polygon points="1513.7,575.8 1559.1,567.0 1585.2,593.5 1539.8,601.4" fill="#ff9100"/>
<polygon points="1539.8,601.4 1585.2,593.5 1611.2,635.9 1565.8,645.7" fill="#ffb100"/>
<polygon points="1565.8,645.7 1611.2,635.9 1637.3,679.2 1591.9,692.0" fill="#fff000"/>
<polygon points="1591.9,692.0 1637.3,679.2 1663.3,719.3 1617.9,732.6" fill="#b9ff00"/>
<polygon points="1617.9,732.6 1663.3,719.3 1689.4,745.4 1644.0,762.1" fill="#00ff64"/>
<polygon points="1644.0,762.1 1689.4,745.4 1715.4,771.4 1670.0,783.7" fill="#00ff89"/>
<polygon points="1670.0,783.7 1715.4,771.4 1741.5,790.5 1696.0,802.6" fill="#00ffac"/>
<polygon points="1696.0,802.6 1741.5,790.5 1767.5,806.2 1722.1,819.0" fill="#00ffce"/>
<polygon points="1722.1,819.0 1767.5,806.2 1793.6,821.0 1748.2,832.8" fill="#00ffdf"/>
<polygon points="1748.2,832.8 1793.6,821.0 1819.6,832.3 1774.2,845.4" fill="#00ffef"/>
<polygon points="1468.3,584.7 1513.7,575.8 1539.8,601.4 1494.3,610.3" fill="#ff8100"/>
<polygon points="1494.3,610.3 1539.8,601.4 1565.8,645.7 1520.4,658.5" fill="#ffa100"/>
<polygon points="1520.4,658.5 1565.8,645.7 1591.9,692.0 1546.4,705.8" fill="#ffe000"/>
<polygon points="1546.4,705.8 1591.9,692.0 1617.9,732.6 1572.5,745.4" fill="#d2ff00"/>
<polygon points="1572.5,745.4 1617.9,732.6 1644.0,762.1 1598.5,775.4" fill="#59ff4f"/>
<polygon points="1598.5,775.4 1644.0,762.1 1670.0,783.7 1624.6,797.0" fill="#00ff77"/>
<polygon points="1624.6,797.0 1670.0,783.7 1696.0,802.6 1650.6,815.0" fill="#00ff9b"/>
<polygon points="1650.6,815.0 1696.0,802.6 1722.1,819.0 1676.7,832.3" fill="#00ffbd"/>
<polygon points="1676.7,832.3 1722.1,819.0 1748.2,832.8 1702.7,845.1" fill="#00ffce"/>
<polygon points="1702.7,845.1 1748.2,832.8 1774.2,845.4 1728.8,854.0" fill="#00ffdf"/>
<polygon points="1422.9,589.0 1468.3,584.7 1494.3,610.3 1448.9,619.5" fill="#ff5f00"/>
<polygon points="1448.9,619.5 1494.3,610.3 1520.4,658.5 1475.0,670.3" fill="#ff8100"/>
<polygon points="1475.0,670.3 1520.4,658.5 1546.4,705.8 1501.0,719.8" fill="#ffd000"/>
<polygon points="1501.0,719.8 1546.4,705.8 1572.5,745.4 1527.1,762.1" fill="#e9ff00"/>
<polygon points="1527.1,762.1 1572.5,745.4 1598.5,775.4 1553.1,788.6" fill="#80ff37"/>
<polygon points="1553.1,788.6 1598.5,775.4 1624.6,797.0 1579.2,809.8" fill="#00ff64"/>
<polygon points="1579.2,809.8 1624.6,797.0 1650.6,815.0 1605.2,828.3" fill="#00ff89"/>
<polygon points="1605.2,828.3 1650.6,815.0 1676.7,832.3 1631.3,842.1" fill="#00ff9b"/>
<polygon points="1631.3,842.1 1676.7,832.3 1702.7,845.1 1657.3,855.0" fill="#00ffbd"/>
<polygon points="1657.3,855.0 1702.7,845.1 1728.8,854.0 1683.4,866.2" fill="#00ffbd"/>
<polygon points="1377.4,598.1 1422.9,589.0 1448.9,619.5 1403.5,628.7" fill="#ff3e00"/>
<polygon points="1403.5,628.7 1448.9,619.5 1475.0,670.3 1429.5,680.5" fill="#ff7000"/>
<polygon points="1429.5,680.5 1475.0,670.3 1501.0,719.8 1455.6,735.2" fill="#ffc100"/>
<polygon points="1455.6,735.2 1501.0,719.8 1527.1,762.1 1481.6,774.9" fill="#ffff00"/>
<polygon points="1481.6,774.9 1527.1,762.1 1553.1,788.6 1507.7,802.0" fill="#9fff13"/>
<polygon points="1507.7,802.0 1553.1,788.6 1579.2,809.8 1533.7,822.6" fill="#59ff4f"/>
<polygon points="1533.7,822.6 1579.2,809.8 1605.2,828.3 1559.8,840.1" fill="#00ff77"/>
<polygon points="1559.8,840.1 1605.2,828.3 1631.3,842.1 1585.8,854.9" fill="#00ff89"/>
<polygon points="1585.8,854.9 1631.3,842.1 1657.3,855.0 1611.9,866.7" fill="#00ff9b"/>
<polygon points="1611.9,866.7 1657.3,855.0 1683.4,866.2 1637.9,880.5" fill="#00ffac"/>
<polygon points="1332.0,607.6 1377.4,598.1 1403.5,628.7 1358.1,636.5" fill="#ff2c00"/>
<polygon points="1358.1,636.5 1403.5,628.7 1429.5,680.5 1384.1,692.7" fill="#ff5f00"/>
<polygon points="1384.1,692.7 1429.5,680.5 1455.6,735.2 1410.2,748.5" fill="#ffa100"/>
<polygon points="1410.2,748.5 1455.6,735.2 1481.6,774.9 1436.2,788.7" fill="#ffff00"/>
<polygon points="1436.2,788.7 1481.6,774.9 1507.7,802.0 1462.3,815.2" fill="#b9ff00"/>
<polygon points="1462.3,815.2 1507.7,802.0 1533.7,822.6 1488.3,837.2" fill="#80ff37"/>
<polygon points="1488.3,837.2 1533.7,822.6 1559.8,840.1 1514.4,853.9" fill="#00ff64"/>
<polygon points="1514.4,853.9 1559.8,840.1 1585.8,854.9 1540.4,865.7" fill="#00ff77"/>
<polygon points="1540.4,865.7 1585.8,854.9 1611.9,866.7 1566.5,878.5" fill="#00ff89"/>
<polygon points="1566.5,878.5 1611.9,866.7 1637.9,880.5 1592.5,888.4" fill="#00ff9b"/>
<polygon points="1286.6,611.9 1332.0,607.6 1358.1,636.5 1312.7,645.4" fill="#ff1a00"/>
<polygon points="1312.7,645.4 1358.1,636.5 1384.1,692.7 1338.7,706.4" fill="#ff3e00"/>
<polygon points="1338.7,706.4 1384.1,692.7 1410.2,748.5 1364.8,763.2" fill="#ff9100"/>
<polygon points="1364.8,763.2 1410.2,748.5 1436.2,788.7 1390.8,801.4" fill="#fff000"/>
<polygon points="1390.8,801.4 1436.2,788.7 1462.3,815.2 1416.8,828.2" fill="#d2ff00"/>
<polygon points="1416.8,828.2 1462.3,815.2 1488.3,837.2 1442.9,850.3" fill="#9fff13"/>
<polygon points="1442.9,850.3 1488.3,837.2 1514.4,853.9 1468.9,865.7" fill="#59ff4f"/>
<polygon points="1468.9,865.7 1514.4,853.9 1540.4,865.7 1495.0,876.5" fill="#00ff64"/>
<polygon points="1495.0,876.5 1540.4,865.7 1566.5,878.5 1521.1,889.3" fill="#00ff77"/>
<polygon points="1521.1,889.3 1566.5,878.5 1592.5,888.4 1547.1,901.2" fill="#00ff89"/>
<polygon points="1241.2,620.2 1286.6,611.9 1312.7,645.4 1267.2,654.3" fill="#ff0000"/>
<polygon points="1267.2,654.3 1312.7,645.4 1338.7,706.4 1293.3,719.2" fill="#ff2c00"/>
<polygon points="1293.3,719.2 1338.7,706.4 1364.8,763.2 1319.3,779.0" fill="#ff8100"/>
<polygon points="1319.3,779.0 1364.8,763.2 1390.8,801.4 1345.4,816.2" fill="#ffe000"/>
<polygon points="1345.4,816.2 1390.8,801.4 1416.8,828.2 1371.4,840.8" fill="#e9ff00"/>
<polygon points="1371.4,840.8 1416.8,828.2 1442.9,850.3 1397.5,861.5" fill="#b9ff00"/>
<polygon points="1397.5,861.5 1442.9,850.3 1468.9,865.7 1423.5,876.4" fill="#80ff37"/>
<polygon points="1423.5,876.4 1468.9,865.7 1495.0,876.5 1449.6,890.6" fill="#59ff4f"/>
<polygon points="1449.6,890.6 1495.0,876.5 1521.1,889.3 1475.6,901.2" fill="#00ff64"/>
<polygon points="1475.6,901.2 1521.1,889.3 1547.1,901.2 1501.7,910.0" fill="#00ff77"/>
<polygon points="1195.8,627.4 1241.2,620.2 1267.2,654.3 1221.8,667.1" fill="#ff0000"/>
<polygon points="1221.8,667.1 1267.2,654.3 1293.3,719.2 1247.9,733.0" fill="#ff0700"/>
<polygon points="1247.9,733.0 1293.3,719.2 1319.3,779.0 1273.9,793.3" fill="#ff7000"/>
<polygon points="1273.9,793.3 1319.3,779.0 1345.4,816.2 1300.0,829.0" fill="#ffd000"/>
<polygon points="1300.0,829.0 1345.4,816.2 1371.4,840.8 1326.0,853.6" fill="#ffff00"/>
<polygon points="1326.0,853.6 1371.4,840.8 1397.5,861.5 1352.1,872.3" fill="#d2ff00"/>
<polygon points="1352.1,872.3 1397.5,861.5 1423.5,876.4 1378.1,885.1" fill="#9fff13"/>
<polygon points="1378.1,885.1 1423.5,876.4 1449.6,890.6 1404.2,899.5" fill="#80ff37"/>
<polygon points="1404.2,899.5 1449.6,890.6 1475.6,901.2 1430.2,911.3" fill="#59ff4f"/>
<polygon points="1430.2,911.3 1475.6,901.2 1501.7,910.0 1456.3,917.5" fill="#59ff4f"/>
<polygon points="1150.3,633.6 1195.8,627.4 1221.8,667.1 1176.4,675.9" fill="#e00000"/>
<polygon points="1176.4,675.9 1221.8,667.1 1247.9,733.0 1202.4,744.8" fill="#ff0000"/>
<polygon points="1202.4,744.8 1247.9,733.0 1273.9,793.3 1228.5,805.6" fill="#ff5f00"/>
<polygon points="1228.5,805.6 1273.9,793.3 1300.0,829.0 1254.5,840.8" fill="#ffc100"/>
<polygon points="1254.5,840.8 1300.0,829.0 1326.0,853.6 1280.6,862.4" fill="#fff000"/>
<polygon points="1280.6,862.4 1326.0,853.6 1352.1,872.3 1306.6,880.2" fill="#e9ff00"/>
<polygon points="1306.6,880.2 1352.1,872.3 1378.1,885.1 1332.7,896.9" fill="#b9ff00"/>
<polygon points="1332.7,896.9 1378.1,885.1 1404.2,899.5 1358.7,910.7" fill="#b9ff00"/>
<polygon points="1358.7,910.7 1404.2,899.5 1430.2,911.3 1384.8,919.5" fill="#9fff13"/>
<polygon points="1384.8,919.5 1430.2,911.3 1456.3,917.5 1410.8,929.4" fill="#80ff37"/>
<polygon points="1104.9,641.5 1150.3,633.6 1176.4,675.9 1131.0,684.8" fill="#cd0000"/>
<polygon points="1131.0,684.8 1176.4,675.9 1202.4,744.8 1157.0,757.6" fill="#ff0000"/>
<polygon points="1157.0,757.6 1202.4,744.8 1228.5,805.6 1183.1,823.1" fill="#ff4f00"/>
<polygon points="1183.1,823.1 1228.5,805.6 1254.5,840.8 1209.1,853.6" fill="#ffb100"/>
<polygon points="1209.1,853.6 1254.5,840.8 1280.6,862.4 1235.2,875.2" fill="#ffe000"/>
<polygon points="1235.2,875.2 1280.6,862.4 1306.6,880.2 1261.2,892.0" fill="#ffff00"/>
<polygon points="1261.2,892.0 1306.6,880.2 1332.7,896.9 1287.3,905.8" fill="#e9ff00"/>
<polygon points="1287.3,905.8 1332.7,896.9 1358.7,910.7 1313.3,918.6" fill="#d2ff00"/>
<polygon points="1313.3,918.6 1358.7,910.7 1384.8,919.5 1339.4,929.4" fill="#b9ff00"/>
<polygon points="1339.4,929.4 1384.8,919.5 1410.8,929.4 1365.4,940.6" fill="#9fff13"/>
<polygon points="1059.5,649.4 1104.9,641.5 1131.0,684.8 1085.5,692.9" fill="#a90000"/>
<polygon points="1085.5,692.9 1131.0,684.8 1157.0,757.6 1111.6,775.1" fill="#f20000"/>
<polygon points="1111.6,775.1 1157.0,757.6 1183.1,823.1 1137.7,835.9" fill="#ff3e00"/>
<polygon points="1137.7,835.9 1183.1,823.1 1209.1,853.6 1163.7,866.4" fill="#ffb100"/>
<polygon points="1163.7,866.4 1209.1,853.6 1235.2,875.2 1189.8,888.0" fill="#ffd000"/>
<polygon points="1189.8,888.0 1235.2,875.2 1261.2,892.0 1215.8,901.8" fill="#fff000"/>
<polygon points="1215.8,901.8 1261.2,892.0 1287.3,905.8 1241.8,913.6" fill="#ffff00"/>
<polygon points="1241.8,913.6 1287.3,905.8 1313.3,918.6 1267.9,928.4" fill="#e9ff00"/>
<polygon points="1267.9,928.4 1313.3,918.6 1339.4,929.4 1294.0,941.2" fill="#d2ff00"/>
<polygon points="1294.0,941.2 1339.4,929.4 1365.4,940.6 1320.0,949.7" fill="#d2ff00"/>
</g>
</g>
<g id="axes">
<line x1="288.7" y1="1207.0" x2="288.7" y2="368.0" stroke="#000" stroke-width="9.6" stroke-linecap="square"/>
<line x1="288.7" y1="1206.5" x2="1318.2" y2="1427.8" stroke="#000" stroke-width="9.6"/>
<line x1="1318.2" y1="1428.3" x2="2001.7" y2="1088.0" stroke="#000" stroke-width="9.6"/>
<line x1="288.7" y1="1207.0" x2="262.3" y2="1201.3" stroke="#000" stroke-width="9.6"/>
<line x1="288.7" y1="1039.2" x2="262.3" y2="1033.5" stroke="#000" stroke-width="9.6"/>
<line x1="288.7" y1="871.4" x2="262.3" y2="865.7" stroke="#000" stroke-width="9.6"/>
<line x1="288.7" y1="703.6" x2="262.3" y2="697.9" stroke="#000" stroke-width="9.6"/>
<line x1="288.7" y1="535.8" x2="262.3" y2="530.1" stroke="#000" stroke-width="9.6"/>
<line x1="288.7" y1="368.0" x2="262.3" y2="362.3" stroke="#000" stroke-width="9.6"/>
<line x1="288.7" y1="1206.5" x2="262.8" y2="1219.6" stroke="#000" stroke-width="9.6"/>
<line x1="494.6" y1="1250.8" x2="467.4" y2="1264.5" stroke="#000" stroke-width="9.6"/>
<line x1="700.5" y1="1295.0" x2="673.3" y2="1308.8" stroke="#000" stroke-width="9.6"/>
<line x1="906.4" y1="1339.3" x2="879.2" y2="1353.1" stroke="#000" stroke-width="9.6"/>
<line x1="1112.3" y1="1383.5" x2="1085.1" y2="1397.3" stroke="#000" stroke-width="9.6"/>
<line x1="1318.2" y1="1427.8" x2="1292.3" y2="1440.9" stroke="#000" stroke-width="9.6"/>
<line x1="1318.2" y1="1428.3" x2="1346.1" y2="1434.3" stroke="#000" stroke-width="9.6"/>
<line x1="1546.0" y1="1314.9" x2="1571.5" y2="1320.3" stroke="#000" stroke-width="9.6"/>
<line x1="1773.9" y1="1201.4" x2="1799.3" y2="1206.9" stroke="#000" stroke-width="9.6"/>
<line x1="2001.7" y1="1088.0" x2="2024.7" y2="1092.9" stroke="#000" stroke-width="9.6"/>
</g>
<g id="labels" shape-rendering="auto">
<text transform="translate(245.0,1216.5) scale(0.957,1)" text-anchor="end" font-size="58.5">0.65</text>
<text transform="translate(245.0,1048.7) scale(0.957,1)" text-anchor="end" font-size="58.5">0.7</text>
<text transform="translate(245.0,880.9) scale(0.957,1)" text-anchor="end" font-size="58.5">0.75</text>
<text transform="translate(245.0,713.1) scale(0.957,1)" text-anchor="end" font-size="58.5">0.8</text>
<text transform="translate(245.0,545.3) scale(0.957,1)" text-anchor="end" font-size="58.5">0.85</text>
<text transform="translate(245.0,377.5) scale(0.957,1)" text-anchor="end" font-size="58.5">0.9</text>
<text transform="translate(248.7,1278.0) scale(0.957,1)" text-anchor="end" font-size="58.5">0</text>
<text transform="translate(454.6,1322.3) scale(0.957,1)" text-anchor="end" font-size="58.5">0.2</text>
<text transform="translate(660.5,1366.5) scale(0.957,1)" text-anchor="end" font-size="58.5">0.4</text>
<text transform="translate(866.4,1410.8) scale(0.957,1)" text-anchor="end" font-size="58.5">0.6</text>
<text transform="translate(1072.3,1455.0) scale(0.957,1)" text-anchor="end" font-size="58.5">0.8</text>
<text transform="translate(1278.2,1499.3) scale(0.957,1)" text-anchor="end" font-size="58.5">1</text>
<text transform="translate(1358.2,1492.8) scale(0.957,1)" text-anchor="start" font-size="58.5">100</text>
<text transform="translate(1586.0,1375.9) scale(0.957,1)" text-anchor="start" font-size="58.5">90</text>
<text transform="translate(1813.9,1262.4) scale(0.957,1)" text-anchor="start" font-size="58.5">80</text>
<text transform="translate(2041.7,1149.0) scale(0.957,1)" text-anchor="start" font-size="58.5">70</text>
<text transform="translate(110.5,1597.8) scale(0.962,1)" text-anchor="start" font-size="58.5">Dimensionless mass of catalyst</text>
<text transform="translate(1683.0,1519.2) scale(0.985,1)" text-anchor="start" font-size="58.5">Inlet pressure (bar)</text>
<text transform="translate(63.3,1015) rotate(-90) scale(0.965,1)" font-size="58.5">H<tspan font-size="50" dy="27">2</tspan><tspan dy="-27"> mole fraction</tspan></text>
<text x="1074.2" y="1761" font-size="80" style="font-family:'Liberation Serif','Times New Roman',serif;font-weight:normal">(<tspan style="font-weight:bold">e</tspan>)</text>
</g>
</svg>
</body></html>
